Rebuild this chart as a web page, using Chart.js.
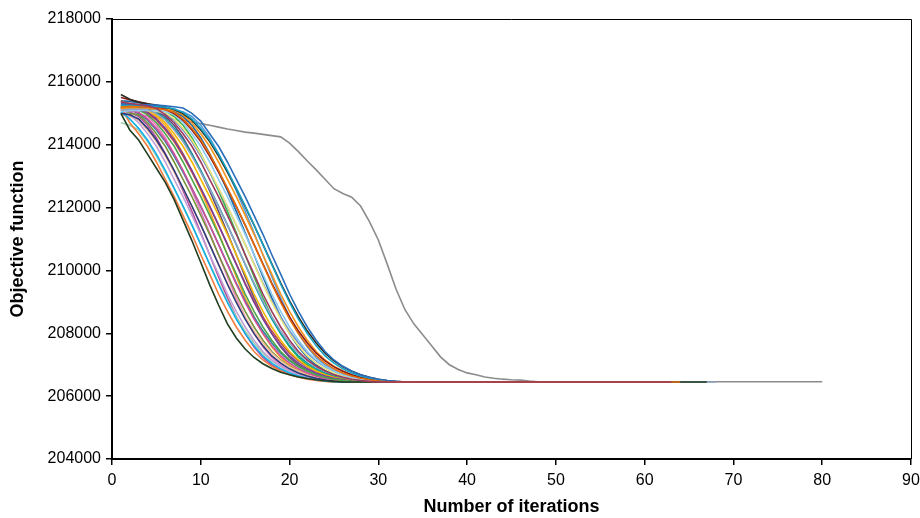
<!DOCTYPE html>
<html>
<head>
<meta charset="utf-8">
<script src="https://cdn.jsdelivr.net/npm/chart.js@4/dist/chart.umd.min.js"></script>
<style>
  html, body { margin: 0; padding: 0; background: #fff; }
  #runsChart { display: block; }
</style>
</head>
<body>
<canvas id="runsChart" width="920" height="518"></canvas>
<script>
// axis ticks
var xTicks = [0, 10, 20, 30, 40, 50, 60, 70, 80, 90];
var yTicks = [204000, 206000, 208000, 210000, 212000, 214000, 216000, 218000];

// objective value per iteration (iteration 1, 2, 3, ...) for each run
var run01 = [215350, 215320, 215280, 215230, 215160, 214950, 214700, 214350, 213950, 213450, 212900, 212350, 211750, 211150, 210500, 209880, 209250, 208700, 208200, 207780, 207420, 207150, 206950, 206800, 206680, 206600, 206540, 206500, 206470, 206450];
var run02 = [215200, 215220, 215210, 215190, 215160, 215110, 215030, 214820, 214520, 214150, 213700, 213180, 212620, 212050, 211450, 210820, 210190, 209560, 208980, 208450, 207990, 207600, 207280, 207050, 206870, 206740, 206640, 206570, 206520, 206480, 206460, 206450];
var run03 = [215000, 214470, 214150, 213700, 213250, 212800, 212250, 211600, 210950, 210250, 209550, 208900, 208300, 207850, 207500, 207230, 207030, 206880, 206760, 206680, 206610, 206560, 206520, 206490, 206470, 206450];
var run04 = [215100, 215130, 215130, 215120, 214990, 214780, 214470, 214100, 213640, 213130, 212600, 212030, 211440, 210830, 210210, 209600, 209030, 208520, 208070, 207690, 207370, 207120, 206930, 206790, 206680, 206600, 206540, 206500, 206470, 206450];
var run05 = [215300, 215290, 215280, 215270, 215260, 215240, 215210, 215170, 215000, 214750, 214350, 213950, 213450, 212900, 212350, 211750, 211150, 210500, 209880, 209250, 208700, 208200, 207780, 207420, 207150, 206950, 206800, 206680, 206600, 206540, 206500, 206470, 206450];
var run06 = [215250, 215260, 215250, 215240, 215220, 215190, 215140, 215030, 214820, 214520, 214150, 213700, 213180, 212620, 212050, 211450, 210820, 210190, 209560, 208980, 208450, 207990, 207600, 207280, 207050, 206870, 206740, 206640, 206570, 206520, 206480, 206460, 206450];
var run07 = [215600, 215450, 215350, 215300, 215260, 215200, 215120, 214990, 214780, 214470, 214100, 213640, 213130, 212600, 212030, 211440, 210830, 210210, 209600, 209030, 208520, 208070, 207690, 207370, 207120, 206930, 206790, 206680, 206600, 206540, 206500, 206470, 206450];
var run08 = [215500, 215430, 215370, 215300, 215220, 215120, 214990, 214780, 214470, 214100, 213640, 213130, 212600, 212030, 211440, 210830, 210210, 209600, 209030, 208520, 208070, 207690, 207370, 207120, 206930, 206790, 206680, 206600, 206540, 206500, 206470, 206450];
var run09 = [215150, 215170, 215160, 215150, 215140, 215120, 215100, 214950, 214700, 214350, 213950, 213450, 212900, 212350, 211750, 211150, 210500, 209880, 209250, 208700, 208200, 207780, 207420, 207150, 206950, 206800, 206680, 206600, 206540, 206500, 206470, 206450];
var run10 = [215050, 215080, 215090, 215090, 215080, 215060, 214950, 214700, 214350, 213950, 213450, 212900, 212350, 211750, 211150, 210500, 209880, 209250, 208700, 208200, 207780, 207420, 207150, 206950, 206800, 206680, 206600, 206540, 206500, 206470, 206450];
var run11 = [215100, 215120, 215110, 215090, 215060, 215030, 214820, 214520, 214150, 213700, 213180, 212620, 212050, 211450, 210820, 210190, 209560, 208980, 208450, 207990, 207600, 207280, 207050, 206870, 206740, 206640, 206570, 206520, 206480, 206460, 206450];
var run12 = [215300, 215280, 215240, 215190, 215120, 214990, 214780, 214470, 214100, 213640, 213130, 212600, 212030, 211440, 210830, 210210, 209600, 209030, 208520, 208070, 207690, 207370, 207120, 206930, 206790, 206680, 206600, 206540, 206500, 206470, 206450];
var run13 = [215250, 215180, 215100, 214950, 214700, 214350, 213950, 213450, 212900, 212350, 211750, 211150, 210500, 209880, 209250, 208700, 208200, 207780, 207420, 207150, 206950, 206800, 206680, 206600, 206540, 206500, 206470, 206450];
var run14 = [215150, 215140, 215100, 215030, 214820, 214520, 214150, 213700, 213180, 212620, 212050, 211450, 210820, 210190, 209560, 208980, 208450, 207990, 207600, 207280, 207050, 206870, 206740, 206640, 206570, 206520, 206480, 206460, 206450];
var run15 = [215200, 215190, 215150, 215100, 214950, 214700, 214350, 213950, 213450, 212900, 212350, 211750, 211150, 210500, 209880, 209250, 208700, 208200, 207780, 207420, 207150, 206950, 206800, 206680, 206600, 206540, 206500, 206470, 206450];
var run16 = [215350, 215300, 215220, 215130, 215030, 214820, 214520, 214150, 213700, 213180, 212620, 212050, 211450, 210820, 210190, 209560, 208980, 208450, 207990, 207600, 207280, 207050, 206870, 206740, 206640, 206570, 206520, 206480, 206460, 206450];
var run17 = [215100, 215080, 215030, 214820, 214520, 214150, 213700, 213180, 212620, 212050, 211450, 210820, 210190, 209560, 208980, 208450, 207990, 207600, 207280, 207050, 206870, 206740, 206640, 206570, 206520, 206480, 206460, 206450];
var run18 = [215000, 214950, 214820, 214520, 214150, 213700, 213180, 212620, 212050, 211450, 210820, 210190, 209560, 208980, 208450, 207990, 207600, 207280, 207050, 206870, 206740, 206640, 206570, 206520, 206480, 206460, 206450];
var run19 = [215050, 214820, 214520, 214150, 213700, 213180, 212620, 212050, 211450, 210820, 210190, 209560, 208980, 208450, 207990, 207600, 207280, 207050, 206870, 206740, 206640, 206570, 206520, 206480, 206460, 206450];
var run20 = [215200, 214700, 214350, 213950, 213450, 212900, 212350, 211750, 211150, 210500, 209880, 209250, 208700, 208200, 207780, 207420, 207150, 206950, 206800, 206680, 206600, 206540, 206500, 206470, 206450];
var run21 = [215100, 214950, 214700, 214350, 213950, 213450, 212900, 212350, 211750, 211150, 210500, 209880, 209250, 208700, 208200, 207780, 207420, 207150, 206950, 206800, 206680, 206600, 206540, 206500, 206470, 206450];
var run22 = [214950, 214900, 214780, 214470, 214100, 213640, 213130, 212600, 212030, 211440, 210830, 210210, 209600, 209030, 208520, 208070, 207690, 207370, 207120, 206930, 206790, 206680, 206600, 206540, 206500, 206470, 206450];
var run23 = [214700, 214620, 214470, 214100, 213640, 213130, 212600, 212030, 211440, 210830, 210210, 209600, 209030, 208520, 208070, 207690, 207370, 207120, 206930, 206790, 206680, 206600, 206540, 206500, 206470, 206450];
var run24 = [215400, 215250, 215120, 214990, 214780, 214470, 214100, 213640, 213130, 212600, 212030, 211440, 210830, 210210, 209600, 209030, 208520, 208070, 207690, 207370, 207120, 206930, 206790, 206680, 206600, 206540, 206500, 206470, 206450];
var run25 = [215050, 215000, 214950, 214700, 214350, 213950, 213450, 212900, 212350, 211750, 211150, 210500, 209880, 209250, 208700, 208200, 207780, 207420, 207150, 206950, 206800, 206680, 206600, 206540, 206500, 206470, 206450];
var run26 = [215250, 215120, 214990, 214780, 214470, 214100, 213640, 213130, 212600, 212030, 211440, 210830, 210210, 209600, 209030, 208520, 208070, 207690, 207370, 207120, 206930, 206790, 206680, 206600, 206540, 206500, 206470, 206450];
var run27 = [215200, 215210, 215180, 215120, 215050, 214900, 214620, 214220, 213720, 213150, 212540, 211880, 211200, 210500, 209800, 209130, 208520, 207990, 207560, 207230, 206990, 206820, 206700, 206620, 206560, 206510, 206480, 206450];
var run28 = [215000, 214990, 214960, 214900, 214620, 214220, 213720, 213150, 212540, 211880, 211200, 210500, 209800, 209130, 208520, 207990, 207560, 207230, 206990, 206820, 206700, 206620, 206560, 206510, 206480, 206450];
var run29 = [215100, 215130, 215140, 215120, 215090, 215050, 214900, 214620, 214220, 213720, 213150, 212540, 211880, 211200, 210500, 209800, 209130, 208520, 207990, 207560, 207230, 206990, 206820, 206700, 206620, 206560, 206510, 206480, 206450];
var run30 = [215300, 215240, 215150, 215050, 214900, 214620, 214220, 213720, 213150, 212540, 211880, 211200, 210500, 209800, 209130, 208520, 207990, 207560, 207230, 206990, 206820, 206700, 206620, 206560, 206510, 206480, 206450];
var run31 = [215400, 215380, 215340, 215290, 215230, 215150, 215050, 214900, 214620, 214220, 213720, 213150, 212540, 211880, 211200, 210500, 209800, 209130, 208520, 207990, 207560, 207230, 206990, 206820, 206700, 206620, 206560, 206510, 206480, 206450];
var run32 = [215150, 215180, 215190, 215180, 215160, 215130, 215090, 215050, 214900, 214620, 214220, 213720, 213150, 212540, 211880, 211200, 210500, 209800, 209130, 208520, 207990, 207560, 207230, 206990, 206820, 206700, 206620, 206560, 206510, 206480, 206450];
var run33 = [215150, 215050, 214900, 214620, 214220, 213720, 213150, 212540, 211880, 211200, 210500, 209800, 209130, 208520, 207990, 207560, 207230, 206990, 206820, 206700, 206620, 206560, 206510, 206480, 206450];
// the slow run
var run34 = [215000, 214980, 214950, 214910, 214870, 214840, 214800, 214760, 214720, 214670, 214620, 214560, 214500, 214450, 214400, 214370, 214330, 214290, 214250, 214050, 213780, 213480, 213200, 212900, 212600, 212450, 212330, 212050, 211550, 210970, 210200, 209400, 208750, 208300, 207950, 207600, 207250, 207000, 206850, 206740, 206680, 206610, 206570, 206540, 206520, 206510, 206480, 206460];

// last iteration reached by each run (stays flat after converging)
var runLast = [63, 64, 67, 68, 34, 34, 34, 33, 33, 32, 31, 31, 29, 30, 30, 31, 29, 28, 27, 26, 27, 28, 27, 30, 28, 29, 30, 28, 31, 29, 32, 33, 27, 80];

var runColors = ['#9e3a5e', '#e46c0a', '#1f3d1f', '#8fa3c4', '#2a6ebb', '#17a2c4', '#2b2a1e', '#8b1a1a',
                 '#f7941d', '#8ccbef', '#ece67a', '#6a8fd0', '#4ea64a', '#7b3f98', '#f2b600', '#00a0a0',
                 '#d24d9c', '#2d3a7c', '#12b0e8', '#f47c3c', '#c3a0d6', '#f8bf9c', '#9fd0b0', '#c0504d',
                 '#77933c', '#31859c', '#604a7b', '#e87dc4', '#3cb44b', '#ffa31a', '#1f6aa5', '#5b9bd5',
                 '#b04aa0', '#8c8c8c'];

var runs = [run01, run02, run03, run04, run05, run06, run07, run08, run09, run10, run11, run12,
            run13, run14, run15, run16, run17, run18, run19, run20, run21, run22, run23, run24,
            run25, run26, run27, run28, run29, run30, run31, run32, run33, run34];

var toPoints = function(values, lastIter) {
	var pts = [];
	for (var i = 0; i < values.length; i++) {
		pts.push({ x: i + 1, y: values[i] });
	}
	if (lastIter > values.length) {
		pts.push({ x: lastIter, y: values[values.length - 1] });
	}
	return pts;
};

var datasets = [];
for (var r = 0; r < runs.length; r++) {
	datasets.push({
		label: 'run ' + (r + 1),
		data: toPoints(runs[r], runLast[r]),
		borderColor: runColors[r],
		backgroundColor: runColors[r],
		borderWidth: 1.6,
		pointRadius: 0,
		tension: 0,
		fill: false
	});
}

var tickFont = { family: '"Liberation Sans", Arial, sans-serif', size: 16 };
var titleFont = { family: '"Liberation Sans", Arial, sans-serif', size: 18, weight: 'bold' };

// thin top and right edges of the plot box
var plotFrame = {
	id: 'plotFrame',
	afterDraw: function(chart) {
		var a = chart.chartArea;
		var ctx = chart.ctx;
		ctx.save();
		ctx.strokeStyle = '#000';
		ctx.lineWidth = 1;
		ctx.beginPath();
		ctx.moveTo(a.left, a.top + 0.5);
		ctx.lineTo(a.right + 0.5, a.top + 0.5);
		ctx.lineTo(a.right + 0.5, a.bottom);
		ctx.stroke();
		ctx.restore();
	}
};

var context = document.getElementById('runsChart').getContext('2d');
var runsChart = new Chart(context, {
	type: 'line',
	data: { datasets: datasets },
	plugins: [plotFrame],
	options: {
		responsive: false,
		animation: false,
		devicePixelRatio: 1,
		layout: { padding: { left: 0, top: 19, right: 9, bottom: 0 } },
		plugins: {
			legend: { display: false },
			tooltip: { enabled: false }
		},
		scales: {
			x: {
				type: 'linear',
				min: 0,
				max: 90,
				afterBuildTicks: function(scale) {
					scale.ticks = xTicks.map(function(v) { return { value: v }; });
				},
				afterFit: function(scale) {
					scale.height = 59;
					scale.paddingLeft = 0;
					scale.paddingRight = 0;
				},
				ticks: { color: '#000', font: tickFont, padding: 6, maxRotation: 0, autoSkip: false,
					callback: function(v) { return String(v); } },
				grid: { drawOnChartArea: false, tickLength: 6, color: '#000', lineWidth: 1.5 },
				border: { color: '#000', width: 2 },
				title: { display: true, text: 'Number of iterations', color: '#000', font: titleFont, padding: { top: 0, bottom: 0 } }
			},
			y: {
				min: 204000,
				max: 218000,
				afterBuildTicks: function(scale) {
					scale.ticks = yTicks.map(function(v) { return { value: v }; });
				},
				afterFit: function(scale) {
					scale.width = 112;
					scale.paddingTop = 0;
					scale.paddingBottom = 0;
				},
				ticks: { color: '#000', font: tickFont, padding: 5,
					callback: function(v) { return String(v); } },
				grid: { drawOnChartArea: false, tickLength: 6, color: '#000', lineWidth: 1.5 },
				border: { color: '#000', width: 2 },
				title: { display: true, text: 'Objective function', color: '#000', font: titleFont, padding: { top: 7, bottom: 0 } }
			}
		}
	}
});
</script>
</body>
</html>
